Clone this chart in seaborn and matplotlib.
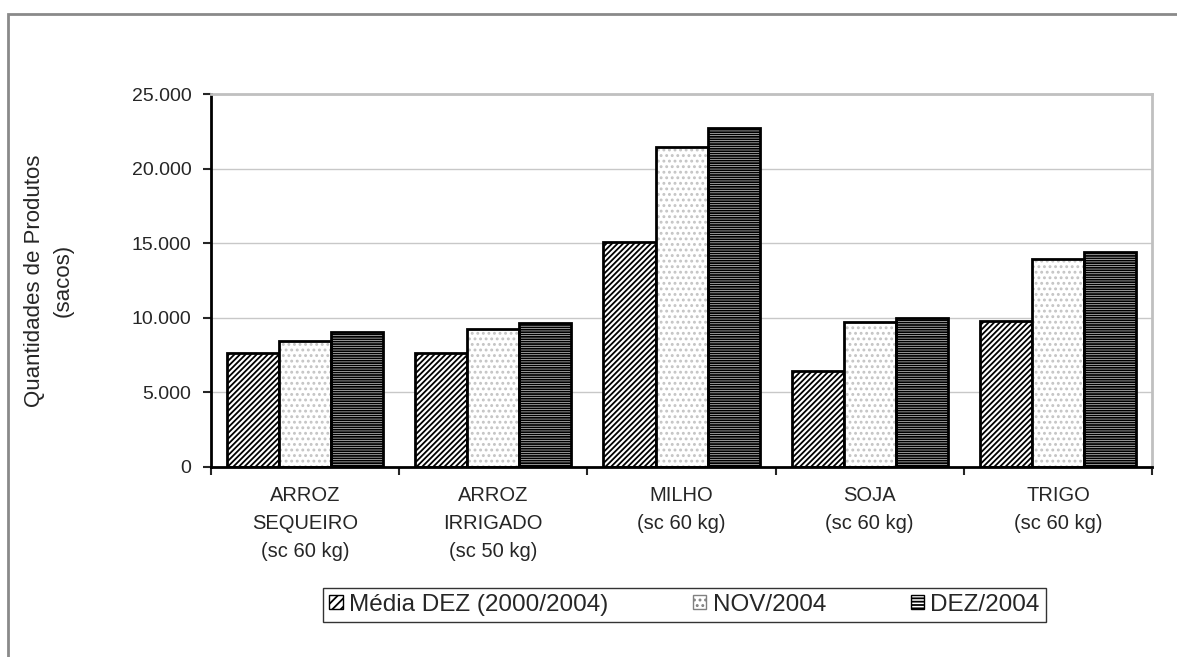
import pandas as pd
import seaborn as sns
import matplotlib.pyplot as plt
from matplotlib.patches import Patch, Rectangle
from matplotlib.ticker import FuncFormatter, FixedLocator

# Data
produtos = ['ARROZ\nSEQUEIRO\n(sc 60 kg)', 'ARROZ\nIRRIGADO\n(sc 50 kg)',
            'MILHO\n(sc 60 kg)', 'SOJA\n(sc 60 kg)', 'TRIGO\n(sc 60 kg)']
series = ['Média DEZ (2000/2004)', 'NOV/2004', 'DEZ/2004']
media_dez = [7640, 7640, 15080, 6430, 9790]
nov_2004 = [8450, 9250, 21450, 9720, 13940]
dez_2004 = [9050, 9650, 22720, 9990, 14410]

df = pd.DataFrame({'Produto': produtos * 3,
                   'Serie': [series[0]] * 5 + [series[1]] * 5 + [series[2]] * 5,
                   'Valor': media_dez + nov_2004 + dez_2004})

sns.set_style('white')
plt.rcParams['font.family'] = ['Liberation Sans', 'DejaVu Sans']
plt.rcParams['hatch.linewidth'] = 1.3

fig = plt.figure(figsize=(11.77, 6.57), dpi=100)
ax = fig.add_axes([0.1793, 0.2892, 0.7995, 0.5677])

sns.barplot(data=df, x='Produto', y='Valor', hue='Serie', hue_order=series,
            palette=['white', 'white', 'white'], width=0.83, gap=0,
            edgecolor='black', linewidth=2, ax=ax, legend=False)

hatches = ['//////', '...', '-------']
n = len(produtos)
for i, bar in enumerate(ax.patches[:3 * n]):
    k = i // n
    bar.set_hatch(hatches[k])
    if k == 1:
        # dotted fill in light grey, black outline drawn on top
        bar.set_edgecolor('#c4c4c4')
        bar.set_linewidth(0)
        ax.add_patch(Rectangle(bar.get_xy(), bar.get_width(), bar.get_height(),
                               fill=False, edgecolor='black', linewidth=2, zorder=3))

ax.set_ylim(0, 25000)
ax.set_xlim(-0.5, n - 0.5)
ax.set_yticks([0, 5000, 10000, 15000, 20000, 25000])
ax.yaxis.set_major_formatter(FuncFormatter(lambda v, p: f'{int(v):,}'.replace(',', '.')))
ax.yaxis.grid(True, color='#c8c8c8', linewidth=1)
ax.set_axisbelow(True)
ax.tick_params(axis='y', left=True, direction='out', length=6, width=1.5,
               labelsize=14, pad=8)
ax.tick_params(axis='x', which='major', bottom=False, labelsize=14.5, pad=10)
ax.xaxis.set_minor_locator(FixedLocator([i - 0.5 for i in range(n + 1)]))
ax.tick_params(axis='x', which='minor', bottom=True, direction='out', length=6, width=1.5)
for lab in ax.get_xticklabels():
    lab.set_linespacing(1.6)

ax.set_xlabel('')
ax.set_ylabel('Quantidades de Produtos\n(sacos)', fontsize=16, labelpad=42,
              linespacing=1.45)

for s in ['left', 'bottom']:
    ax.spines[s].set_color('black')
    ax.spines[s].set_linewidth(2)
for s in ['top', 'right']:
    ax.spines[s].set_color('#c0c0c0')
    ax.spines[s].set_linewidth(2)

handles = [Patch(facecolor='white', edgecolor='black', hatch='////'),
           Patch(facecolor='white', edgecolor='#808080', hatch='...'),
           Patch(facecolor='white', edgecolor='black', hatch='-----')]
leg = fig.legend(handles, series, loc='center', bbox_to_anchor=(0.5816, 0.0795),
                 ncol=3, fontsize=17.5, frameon=True, fancybox=False,
                 handlelength=0.55, handleheight=0.55, handletextpad=0.25,
                 columnspacing=3.5, borderpad=0.25, borderaxespad=0)
leg.get_frame().set_edgecolor('black')
leg.get_frame().set_linewidth(1)

# outer chart frame
fig.patches.append(Rectangle((8 / 1177, -0.1), 1.2, 1 - 14 / 657 + 0.1,
                             transform=fig.transFigure, fill=False,
                             edgecolor='#8a8a8a', linewidth=2))

plt.savefig('out.png', dpi=100)
